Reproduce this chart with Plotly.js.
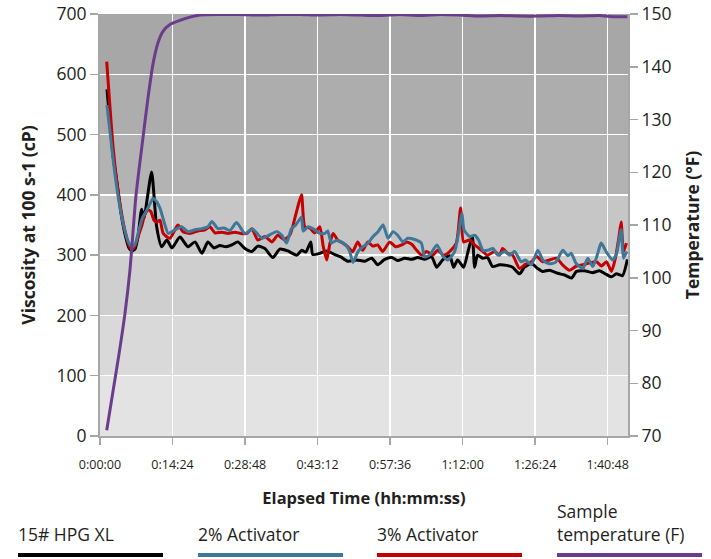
<!DOCTYPE html>
<html>
<head>
<meta charset="utf-8">
<script src="https://cdn.plot.ly/plotly-3.0.1.min.js"></script>
<style>
html,body{margin:0;padding:0;background:#fff;}
#chart{width:711px;height:559px;}
</style>
</head>
<body>
<div id="chart"></div>
<script>
// ---- data (elapsed seconds, values) ----
const xTickVals = [0, 864, 1728, 2592, 3456, 4320, 5184, 6048];
const xTickText = ['0:00:00', '0:14:24', '0:28:48', '0:43:12', '0:57:36', '1:12:00', '1:26:24', '1:40:48'];

const hpgT = [83,119,155,202,250,298,345,381,417,452,496,524,559,615,675,734,797,857,952,1047,1131,1214,1285,1357,1428,1499,1571,1642,1726,1809,1880,1964,2059,2142,2237,2344,2404,2451,2511,2535,2618,2701,2797,2868,2951,3058,3154,3237,3308,3392,3475,3546,3630,3713,3784,3868,3951,4010,4082,4165,4213,4260,4332,4379,4435,4463,4498,4558,4617,4677,4760,4843,4915,4998,5058,5141,5212,5272,5355,5450,5534,5617,5676,5772,5867,5950,6033,6093,6152,6224,6283];
const hpgV = [575,520,465,420,370,335,312,307,310,330,376,361,390,438,347,314,325,312,330,314,322,303,322,312,316,314,317,322,311,306,315,311,296,310,307,300,308,305,322,301,303,307,301,297,290,292,290,295,284,293,296,291,295,293,296,293,297,280,292,299,280,292,280,303,331,280,300,295,296,281,284,283,280,269,280,286,278,273,275,270,267,262,273,274,271,274,268,264,269,266,293];

const act2T = [83,119,155,202,250,298,345,381,417,452,500,547,595,634,678,714,774,813,893,972,1051,1131,1214,1285,1333,1404,1476,1547,1627,1726,1821,1928,1999,2106,2166,2222,2281,2332,2400,2420,2479,2559,2618,2678,2713,2757,2808,2876,2927,2975,3014,3074,3134,3193,3253,3313,3372,3432,3491,3546,3609,3665,3749,3828,3868,3927,4014,4086,4145,4225,4264,4312,4336,4403,4463,4510,4562,4617,4680,4740,4820,4879,4939,5018,5069,5137,5216,5276,5343,5426,5514,5573,5613,5673,5752,5811,5871,5930,5970,6033,6108,6152,6208,6236,6275];
const act2V = [549,505,460,410,370,340,320,314,318,335,360,372,385,394,388,378,350,336,342,347,339,342,344,347,356,344,345,341,354,336,343,328,332,339,333,320,344,350,363,340,347,342,336,336,340,320,324,322,317,306,288,306,314,320,331,339,350,328,339,333,322,328,326,320,297,300,317,298,292,306,331,369,342,331,333,325,308,308,311,300,306,300,306,289,292,284,308,292,286,288,308,299,303,286,278,295,281,303,320,305,292,302,342,295,306];

const act3T = [80,119,155,202,250,298,345,381,417,452,500,536,571,607,643,678,714,753,833,928,988,1071,1166,1250,1309,1369,1452,1523,1607,1678,1749,1809,1880,1964,2047,2118,2190,2261,2332,2400,2440,2499,2559,2618,2660,2701,2737,2777,2832,2892,2951,3011,3070,3130,3189,3249,3308,3368,3451,3522,3594,3653,3713,3773,3832,3891,3963,4022,4094,4165,4245,4296,4332,4403,4463,4546,4617,4701,4760,4796,4855,4915,4998,5069,5141,5200,5272,5355,5438,5510,5593,5676,5748,5831,5914,5974,6033,6093,6140,6180,6208,6236,6271];
const act3V = [621,545,480,420,375,340,316,310,315,330,350,368,375,372,358,355,358,336,328,350,339,336,340,342,347,337,338,336,338,336,336,344,325,331,322,333,326,333,367,400,347,345,337,347,314,292,318,336,325,320,314,306,322,308,322,315,317,306,322,314,317,322,318,308,300,306,300,308,300,306,320,378,322,325,317,308,300,306,300,311,303,300,278,285,289,298,289,292,295,284,275,282,284,287,289,282,289,273,295,328,355,306,320];

const tempT = [80,155,226,298,357,428,500,571,631,690,750,833,952,1071,1190,1428,1666,1904,2142,2380,2618,2856,3094,3332,3570,3808,4046,4284,4522,4760,4998,5236,5474,5712,5950,6129,6283];
const tempV = [71.1,78.5,85.5,93.3,101.5,115.5,125,134,140.5,144.5,146.7,148.0,148.8,149.4,149.8,149.9,149.9,149.8,149.9,149.9,149.8,149.9,149.8,149.7,149.9,149.7,149.9,149.8,149.6,149.7,149.6,149.6,149.7,149.6,149.7,149.5,149.5];

const seriesNames = ['15# HPG XL', '2% Activator', '3% Activator', 'Sample temperature (F)'];
const seriesColors = ['#000000', '#3f7799', '#c40000', '#6b3c8c'];

const bandEdges = [0, 100, 200, 300, 400, 500, 600, 700];
const bandColors = ['#e3e3e3', '#d9d9d9', '#cfcfcf', '#c6c6c6', '#b3b3b3', '#adadad', '#a7a7a7'];

// ---- chart ----
const FONT = '"Open Sans", "Noto Sans", sans-serif';
const TXT = '#231f20';
const AX = '#a6a6a6';

const traces = [
  {x: hpgT, y: hpgV, name: seriesNames[0], type: 'scatter', mode: 'lines', line: {color: seriesColors[0], width: 3, shape: 'spline', smoothing: 0.6}},
  {x: act2T, y: act2V, name: seriesNames[1], type: 'scatter', mode: 'lines', line: {color: seriesColors[1], width: 3, shape: 'spline', smoothing: 0.6}},
  {x: act3T, y: act3V, name: seriesNames[2], type: 'scatter', mode: 'lines', line: {color: seriesColors[2], width: 3, shape: 'spline', smoothing: 0.6}},
  {x: tempT, y: tempV, name: seriesNames[3], type: 'scatter', mode: 'lines', yaxis: 'y2', line: {color: seriesColors[3], width: 3, shape: 'spline', smoothing: 0.6}}
];
const ordered = [traces[3], traces[0], traces[2], traces[1]];

const shapes = [];
for (let i = 0; i < bandColors.length; i++) {
  shapes.push({type: 'rect', xref: 'paper', yref: 'y', x0: 0, x1: 1, y0: bandEdges[i], y1: bandEdges[i + 1],
    fillcolor: bandColors[i], line: {width: 0}, layer: 'below'});
}

// custom legend: label text above a thick line sample
const legX = [18, 198, 377, 557];
const legW = 145;
const plotL = 100, plotW = 528, plotT = 14, plotH = 422;
const px2x = p => (p - plotL) / plotW;
const py2y = p => (plotT + plotH - p) / plotH;
const annotations = [];
for (let i = 0; i < seriesNames.length; i++) {
  shapes.push({type: 'line', xref: 'paper', yref: 'paper', x0: px2x(legX[i]), x1: px2x(legX[i] + legW),
    y0: py2y(555), y1: py2y(555), line: {color: seriesColors[i], width: 4}});
  const txt = i === 3 ? 'Sample<br>temperature (F)' : seriesNames[i];
  annotations.push({xref: 'paper', yref: 'paper', x: px2x(legX[i]) - 0.004, y: py2y(548), xanchor: 'left', yanchor: 'bottom',
    text: txt, showarrow: false, align: 'left', font: {family: FONT, size: 17.5, color: TXT}});
}

const layout = {
  width: 711, height: 559,
  margin: {l: plotL, r: 711 - plotL - plotW, t: plotT, b: 559 - plotT - plotH},
  paper_bgcolor: '#ffffff',
  plot_bgcolor: '#e3e3e3',
  showlegend: false,
  font: {family: FONT, color: TXT},
  xaxis: {
    range: [0, 6290], tickvals: xTickVals, ticktext: xTickText,
    showgrid: true, gridcolor: '#ffffff', gridwidth: 1.5,
    showline: true, linecolor: AX, linewidth: 2,
    ticks: 'outside', ticklen: 7, tickcolor: AX, tickwidth: 1.5,
    ticklabelstandoff: 9,
    tickfont: {size: 12.5, color: TXT},
    zeroline: false,
    title: {text: 'Elapsed Time (hh:mm:ss)', font: {size: 16.5, color: TXT, weight: 'bold'}, standoff: 20}
  },
  yaxis: {
    range: [0, 700], dtick: 100,
    showgrid: true, gridcolor: '#ffffff', gridwidth: 1.5,
    showline: true, linecolor: AX, linewidth: 2,
    ticks: 'outside', ticklen: 8, tickcolor: AX, tickwidth: 1.5,
    tickfont: {size: 17.5, color: TXT},
    zeroline: false,
    title: {text: 'Viscosity at 100 s-1 (cP)', font: {size: 17.5, color: TXT, weight: 'bold'}, standoff: 16}
  },
  yaxis2: {
    overlaying: 'y', side: 'right', range: [70, 150], dtick: 10,
    showgrid: false, zeroline: false,
    showline: true, linecolor: AX, linewidth: 2,
    ticks: 'outside', ticklen: 8, tickcolor: AX, tickwidth: 1.5,
    tickfont: {size: 17.5, color: TXT},
    title: {text: 'Temperature (°F)', font: {size: 17.5, color: TXT, weight: 'bold'}, standoff: 16}
  },
  shapes: shapes,
  annotations: annotations
};

Plotly.newPlot('chart', ordered, layout, {displayModeBar: false, staticPlot: true});
</script>
</body>
</html>
